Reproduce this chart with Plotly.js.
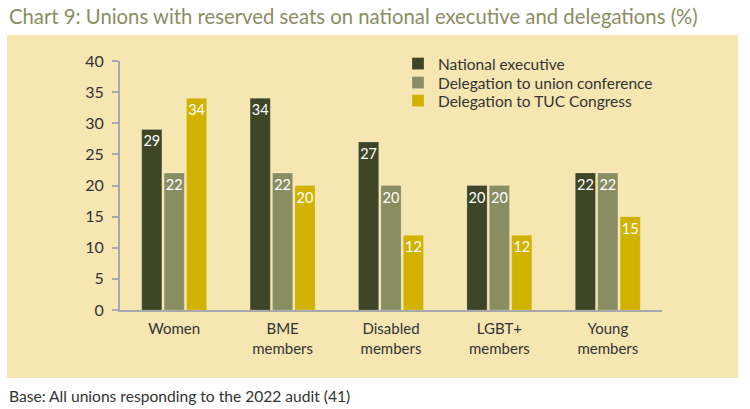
<!DOCTYPE html>
<html>
<head>
<meta charset="utf-8">
<script src="https://cdn.plot.ly/plotly-3.0.1.min.js"></script>
<style>html,body{margin:0;padding:0;background:#fff;}#chart{width:750px;height:409px;}</style>
</head>
<body>
<div id="chart"></div>
<script>
var categories = ["Women", "BME<br>members", "Disabled<br>members", "LGBT+<br>members", "Young<br>members"];
var seriesNames = ["National executive", "Delegation to union conference", "Delegation to TUC Congress"];
var nationalExecutive = [29, 34, 27, 20, 22];
var unionConference = [22, 22, 20, 20, 22];
var tucCongress = [34, 20, 12, 12, 15];
var yTicks = [0, 5, 10, 15, 20, 25, 30, 35, 40];

var colors = ["#3E4627", "#898E62", "#D2B200"];
var FONT = "Lato, 'Open Sans', sans-serif";
var values = [nationalExecutive, unionConference, tucCongress];
var legendIds = ["legend", "legend2", "legend3"];

var traces = values.map(function (v, i) {
  return {
    type: "bar",
    name: seriesNames[i],
    legend: legendIds[i],
    x: categories,
    y: v,
    text: v.map(String),
    textposition: "inside",
    insidetextanchor: "end",
    textangle: 0,
    textfont: {color: "#ffffff", size: 14.5, family: FONT},
    marker: {color: colors[i], line: {color: "rgba(255,255,255,0.18)", width: 1}},
    hoverinfo: "skip"
  };
});

var L = 120, R = 662, T = 61, B = 310;
var W = R - L, H = B - T;
function px(x) { return (x - L) / W; }
function py(y) { return (B - y) / H; }

function legendAt(yc) {
  return {
    x: px(398), xanchor: "left", y: py(yc), yanchor: "middle",
    bgcolor: "rgba(0,0,0,0)", font: {size: 15.5, color: "#333333", family: FONT},
    itemwidth: 30
  };
}

var layout = {
  width: 750, height: 409,
  margin: {l: L, r: 750 - R, t: T, b: 409 - B, pad: 0},
  paper_bgcolor: "#ffffff",
  plot_bgcolor: "rgba(0,0,0,0)",
  font: {family: FONT, color: "#333333", size: 15},
  barmode: "group",
  bargap: 0.38,
  bargroupgap: 0.1,
  uniformtext: {mode: "show", minsize: 14.5},
  showlegend: true,
  legend: legendAt(64),
  legend2: legendAt(83),
  legend3: legendAt(101),
  xaxis: {
    showline: true, linecolor: "#A7A7AE", linewidth: 2,
    ticks: "", showgrid: false, zeroline: false,
    tickfont: {size: 15, color: "#333333", family: FONT},
    ticklabelstandoff: 4,
    range: [-0.5, 4.5], fixedrange: true
  },
  yaxis: {
    range: [0, 40], tickvals: yTicks, ticktext: yTicks.map(String),
    showline: true, linecolor: "#A7A7AE", linewidth: 2,
    ticks: "outside", ticklen: 6, tickcolor: "#A7A7AE", tickwidth: 2,
    ticklabelstandoff: 5,
    showgrid: false, zeroline: false,
    tickfont: {size: 16, color: "#333333", family: FONT},
    fixedrange: true
  },
  shapes: [{
    type: "rect", xref: "paper", yref: "paper", layer: "below",
    x0: px(7), x1: px(738), y0: py(378), y1: py(35),
    fillcolor: "#F6E6B2", line: {width: 0}
  }],
  annotations: [
    {xref: "paper", yref: "paper", x: px(7), y: py(16), xanchor: "left", yanchor: "middle",
     showarrow: false, text: "Chart 9: Unions with reserved seats on national executive and delegations (%)",
     font: {size: 20.3, color: "#8A8E62", family: FONT}},
    {xref: "paper", yref: "paper", x: px(7), y: py(396), xanchor: "left", yanchor: "middle",
     showarrow: false, text: "Base: All unions responding to the 2022 audit (41)",
     font: {size: 15.6, color: "#333333", family: FONT}}
  ]
};

Plotly.newPlot("chart", traces, layout, {displayModeBar: false, staticPlot: true});
</script>
</body>
</html>
